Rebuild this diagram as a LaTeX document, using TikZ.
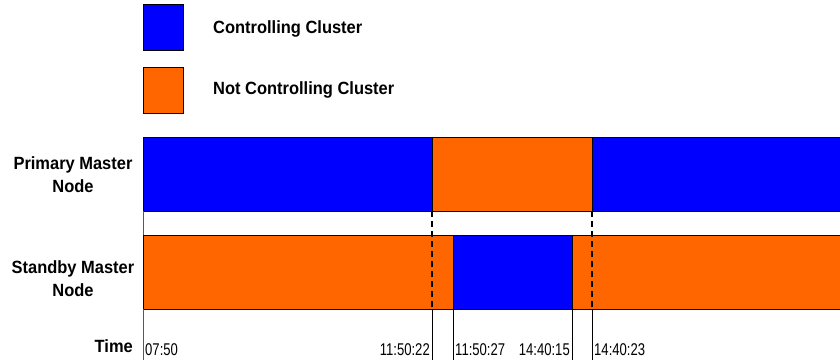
\documentclass[tikz,border=0pt]{standalone}
\usepackage{fontspec}
\setmainfont{Liberation Sans}
\newfontfamily\labelfont[FakeStretch=0.93]{Liberation Sans}
\newfontfamily\timefont[FakeStretch=0.77]{Liberation Sans}
\usetikzlibrary{positioning}
\definecolor{ctrlblue}{HTML}{0000FF}
\definecolor{idleorange}{HTML}{FF6600}
\tikzset{
  ctrl/.style = {fill = ctrlblue, draw = black, line width = 1pt},
  idle/.style = {fill = idleorange, draw = black, line width = 1pt},
  rowlabel/.style = {font = \labelfont\bfseries\fontsize{17.7}{23}\selectfont, align = center, inner sep = 0pt},
  timelabel/.style = {font = \timefont\fontsize{17}{18}\selectfont, inner sep = 0pt},
  switchline/.style = {dash pattern = on 6pt off 4pt, line width = 2pt}
}

\begin{document}
\begin{tikzpicture}[x = 1pt, y = -1pt]
\clip (0, 0) rectangle (840, 360);
% legend
\draw[ctrl] (143, 4) rectangle (183, 50);
\draw[idle] (143, 67) rectangle (183, 113);
\node[rowlabel, anchor = base west] (ctrl text) at (213, 33) {Controlling Cluster};
\node[rowlabel, anchor = base west] (idle text) at (213, 94) {Not Controlling Cluster};
% primary master
\draw[ctrl] (143, 137) rectangle (432, 211);
\draw[idle] (432, 137) rectangle (592, 211);
\draw[ctrl] (592, 137) rectangle (850, 211);
% standby master
\draw[idle] (143, 235) rectangle (453, 309);
\draw[ctrl] (453, 235) rectangle (572, 309);
\draw[idle] (572, 235) rectangle (850, 309);
\node[rowlabel] (primary) at (73, 175) {Primary Master\\Node};
\node[rowlabel] (standby) at (73, 279) {Standby Master\\Node};
% time axis
\draw[gray!70!black, line width = 1pt] (143, 211) -- (143, 235);
\draw[gray!70!black, line width = 1pt] (143, 309) -- (143, 360);
\foreach \x in {432, 453, 572, 592} \draw[line width = 1pt] (\x, 309) -- (\x, 360);
\coordinate (fail top) at (432, 211);
\coordinate (fail bottom) at (432, 309);
\coordinate (back top) at (592, 211);
\coordinate (back bottom) at (592, 309);
\draw[switchline] (fail top) -- (fail bottom);
\draw[switchline] (back top) -- (back bottom);
\node[rowlabel, anchor = base east] (time) at (133, 352) {Time};
\foreach \x/\side/\ttext [count = \i] in {145/west/07:50, 430/east/11:50:22, 455/west/11:50:27, 570/east/14:40:15, 594/west/14:40:23}
  \node[timelabel, anchor = base \side] (tick \i) at (\x, 355) {\ttext};
\end{tikzpicture}
\end{document}
